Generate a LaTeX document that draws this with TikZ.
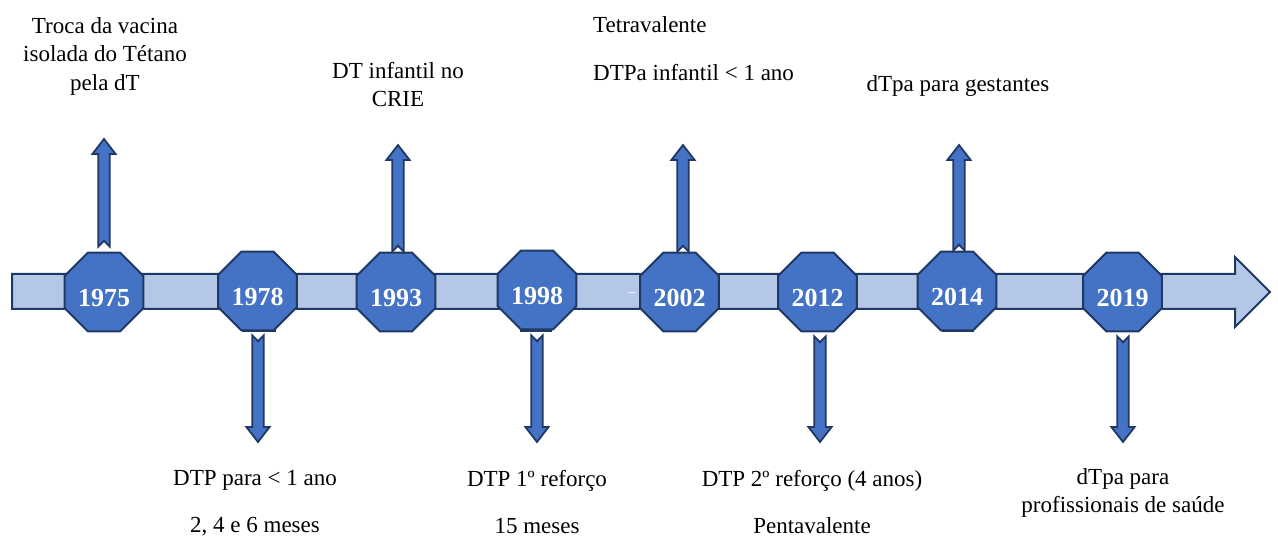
\documentclass[tikz,border=0pt]{standalone}
\usepackage{fontspec}
\setmainfont{Liberation Serif}
\usetikzlibrary{calc,shapes.geometric}
\definecolor{barfill}{HTML}{B4C7E7}
\definecolor{octfill}{HTML}{4472C4}
\definecolor{navy}{HTML}{1F3864}
\newcommand{\notchedarrow}[2]{%
  \coordinate (na-nk) at ($(#2)!15pt!(#1)$);
  \coordinate (na-nc) at ($(#1)!6pt!(#2)$);
  \filldraw[arrowbody] ($(#1)!5.8pt!90:(#2)$) -- ($(na-nk)!5.8pt!90:(#2)$)
    -- ($(na-nk)!11.6pt!90:(#2)$) -- (#2) -- ($(na-nk)!11.6pt!-90:(#2)$)
    -- ($(na-nk)!5.8pt!-90:(#2)$) -- ($(#1)!5.8pt!-90:(#2)$) -- (na-nc) -- cycle;}
\begin{document}
\begin{tikzpicture}[x=1pt,y=-1pt,
  octbox/.style={regular polygon, regular polygon sides=8, minimum size=85pt,
    inner sep=0pt, fill=octfill, draw=navy, line width=2pt, text=white,
    text height=30pt, text depth=0pt,
    font=\fontsize{26}{30}\selectfont\bfseries},
  arrowbody/.style={fill=octfill, draw=navy, line width=1.8pt, line join=miter},
  stripbox/.style={fill=octfill!75!navy, draw=navy, line width=1.5pt},
  lbl/.style={font=\fontsize{23}{28.5}\selectfont, inner sep=0pt, align=center}]
\useasboundingbox (0,0) rectangle (1278,537);
% timeline bar
\filldraw[fill=barfill, draw=navy, line width=2pt, line join=miter]
  (12,274) -- (1235,274) -- (1235,257) -- (1270,292) -- (1235,327)
  -- (1235,309) -- (12,309) -- cycle;
% strips peeking under some octagons
\filldraw[stripbox] (243,318) rectangle (275,331);
\filldraw[stripbox] (521,318) rectangle (551,331);
\filldraw[stripbox] (943,318) rectangle (973,331);
% octagons
\node[octbox] (y1975) at (104,292) {1975};
\node[octbox] (y1978) at (257.5,291) {1978};
\node[octbox] (y1993) at (396,292) {1993};
\node[octbox] (y1998) at (537,290) {1998};
\node[octbox] (y2002) at (679.5,292) {2002};
\node[octbox] (y2012) at (817.5,292) {2012};
\node[octbox] (y2014) at (957,291) {2014};
\node[octbox] (y2019) at (1122.5,292) {2019};
\node[font=\fontsize{14}{14}\selectfont, text=white, inner sep=0pt] (dash) at (632,295) {–};
% arrow end points
\coordinate (a1975e) at (104,139);
\coordinate (a1975s) at ($(a1975e |- y1975.north)+(0,-5)$);
\coordinate (a1993e) at (398,145);
\coordinate (a1993s) at (a1993e |- y1993.north);
\coordinate (a2002e) at (683,145);
\coordinate (a2002s) at (a2002e |- y2002.north);
\coordinate (a2014e) at (959,145);
\coordinate (a2014s) at (a2014e |- y2014.north);
\coordinate (a1978e) at (258,442);
\coordinate (a1978s) at ($(a1978e |- y1978.south)+(0,4)$);
\coordinate (a1998e) at (537,442);
\coordinate (a1998s) at ($(a1998e |- y1998.south)+(0,5)$);
\coordinate (a2012e) at (820,442);
\coordinate (a2012s) at ($(a2012e |- y2012.south)+(0,4)$);
\coordinate (a2019e) at (1123,442);
\coordinate (a2019s) at ($(a2019e |- y2019.south)+(0,4)$);
\notchedarrow{a1975s}{a1975e}
\notchedarrow{a1993s}{a1993e}
\notchedarrow{a2002s}{a2002e}
\notchedarrow{a2014s}{a2014e}
\notchedarrow{a1978s}{a1978e}
\notchedarrow{a1998s}{a1998e}
\notchedarrow{a2012s}{a2012e}
\notchedarrow{a2019s}{a2019e}
% labels
\node[lbl, anchor=north] (t1975) at (105,17) {Troca da vacina\\isolada do Tétano\\pela dT};
\node[lbl, anchor=north] (t1993) at (398,62) {DT infantil no\\CRIE};
\node[lbl, anchor=north west, align=left] (t2002) at (593,16) {Tetravalente\\[19.5pt]DTPa infantil < 1 ano};
\node[lbl, anchor=base] (t2014) at (958,92) {dTpa para gestantes};
\node[lbl, anchor=north] (t1978) at (255,470) {DTP para < 1 ano\\[19pt]2, 4 e 6 meses};
\node[lbl, anchor=north] (t1998) at (537,470) {DTP 1º reforço\\[19pt]15 meses};
\node[lbl, anchor=north] (t2012) at (812,470) {DTP 2º reforço (4 anos)\\[19pt]Pentavalente};
\node[lbl, anchor=north] (t2019) at (1123,468) {dTpa para\\profissionais de saúde};
\end{tikzpicture}
\end{document}
